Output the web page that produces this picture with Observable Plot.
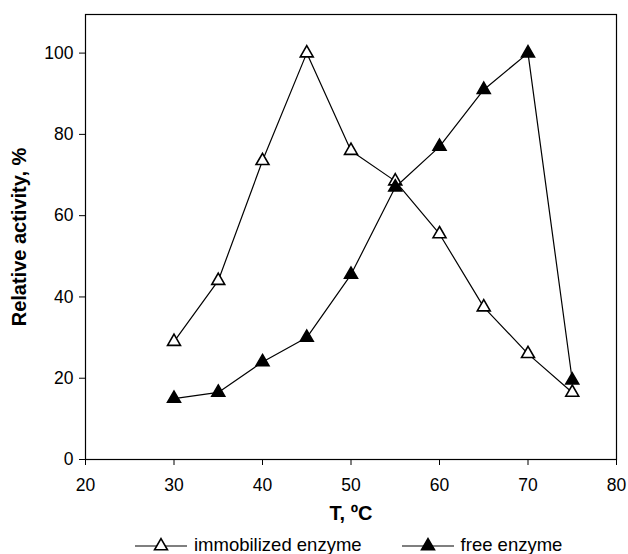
<!DOCTYPE html>
<html>
<head>
<meta charset="utf-8">
<script src="https://cdn.jsdelivr.net/npm/d3@7"></script>
<script src="https://cdn.jsdelivr.net/npm/@observablehq/plot@0.6"></script>
<style>
  html, body { margin: 0; padding: 0; background: #fff; }
  body { width: 628px; font-family: "Liberation Sans", Arial, Helvetica, sans-serif; }
  #legend { display: flex; align-items: center; height: 34px; font-size: 18.5px; color: #000; }
  .item { display: flex; align-items: center; }
</style>
</head>
<body>
<div id="chart"></div>
<div id="legend"></div>
<script>
const temperatures = [30, 35, 40, 45, 50, 55, 60, 65, 70, 75];
const immobilized = [29, 44, 73.5, 100, 76, 68.5, 55.5, 37.5, 26, 16.5];
const freeEnzyme = [15, 16.5, 24, 30, 45.5, 67, 77, 91, 100, 19.5];
const xTicks = [20, 30, 40, 50, 60, 70, 80];
const yTicks = [0, 20, 40, 60, 80, 100];
const seriesNames = ["immobilized enzyme", "free enzyme"];

const imm = temperatures.map((t, i) => ({t, v: immobilized[i]}));
const fre = temperatures.map((t, i) => ({t, v: freeEnzyme[i]}));

const chart = Plot.plot({
  width: 628,
  height: 528,
  marginLeft: 85,
  marginRight: 12,
  marginTop: 14,
  marginBottom: 69,
  style: {fontFamily: '"Liberation Sans", Arial, Helvetica, sans-serif', fontSize: "17.5px", color: "#000", background: "#fff"},
  x: {domain: [20, 80]},
  y: {domain: [0, 109.5]},
  marks: [
    Plot.frame({stroke: "#000", strokeWidth: 1.2}),
    Plot.axisX({ticks: xTicks, tickSize: 6, tickFormat: () => "", label: null}),
    Plot.axisY({ticks: yTicks, tickSize: 6, tickFormat: () => "", label: null}),
    Plot.text(xTicks, {x: d => d, frameAnchor: "bottom", dy: 26, text: d => String(d), fontSize: 17.5, lineAnchor: "middle", textAnchor: "middle"}),
    Plot.text(yTicks, {y: d => d, frameAnchor: "left", dx: -12, text: d => String(d), fontSize: 17.5, lineAnchor: "middle", textAnchor: "end"}),
    Plot.text(["T, ºC"], {frameAnchor: "bottom", dy: 54, text: d => d, fontWeight: "bold", fontSize: 20, lineAnchor: "middle", textAnchor: "middle"}),
    Plot.text(["Relative activity, %"], {frameAnchor: "left", dx: -66, rotate: -90, text: d => d, fontWeight: "bold", fontSize: 20, lineAnchor: "middle", textAnchor: "middle"}),
    Plot.line(imm, {x: "t", y: "v", stroke: "#000", strokeWidth: 1.2}),
    Plot.dot(imm, {x: "t", y: "v", symbol: "triangle", r: 4.8, fill: "#fff", stroke: "#000", strokeWidth: 1.6}),
    Plot.line(fre, {x: "t", y: "v", stroke: "#000", strokeWidth: 1.2}),
    Plot.dot(fre, {x: "t", y: "v", symbol: "triangle", r: 4.8, fill: "#000", stroke: "#000", strokeWidth: 1.6})
  ]
});
document.getElementById("chart").appendChild(chart);

// legend
const legend = document.getElementById("legend");
function symbolSvg(filled) {
  const ns = "http://www.w3.org/2000/svg";
  const svg = document.createElementNS(ns, "svg");
  svg.setAttribute("width", 52); svg.setAttribute("height", 20);
  const line = document.createElementNS(ns, "line");
  line.setAttribute("x1", 0); line.setAttribute("x2", 52);
  line.setAttribute("y1", 11); line.setAttribute("y2", 11);
  line.setAttribute("stroke", "#000"); line.setAttribute("stroke-width", 1.2);
  svg.appendChild(line);
  const path = document.createElementNS(ns, "path");
  path.setAttribute("d", d3.symbol(d3.symbolTriangle, Math.PI * 4.8 * 4.8)());
  path.setAttribute("transform", "translate(26,11)");
  path.setAttribute("fill", filled ? "#000" : "#fff");
  path.setAttribute("stroke", "#000"); path.setAttribute("stroke-width", 1.6);
  svg.appendChild(path);
  return svg;
}
seriesNames.forEach((name, i) => {
  const item = document.createElement("div");
  item.className = "item";
  item.style.marginLeft = i === 0 ? "135px" : "40px";
  item.appendChild(symbolSvg(i === 1));
  const span = document.createElement("span");
  span.textContent = name;
  span.style.marginLeft = "7px";
  item.appendChild(span);
  legend.appendChild(item);
});
</script>
</body>
</html>
